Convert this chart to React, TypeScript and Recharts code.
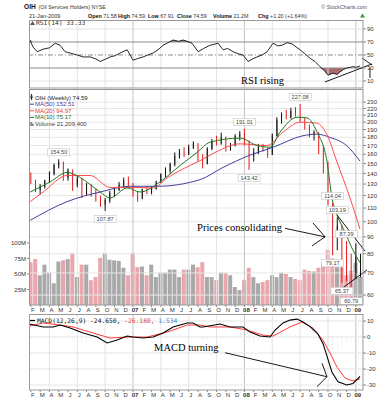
import { Area, Bar, Cell, ComposedChart, Line, ReferenceDot, ReferenceLine, XAxis, YAxis } from "recharts";

const SANS = "'Liberation Sans', Arial, sans-serif";
const MONO = "'DejaVu Sans Mono', monospace";
const SERIF = "'Liberation Serif', 'Times New Roman', serif";

// x unit = months since 1-Jan-2006
const X_DOMAIN: [number, number] = [0.8, 36.77];
const monthTicks = [1, 2, 3, 4, 5, 6, 7, 8, 9, 10, 11, 12, 13, 14, 15, 16, 17, 18, 19, 20, 21, 22, 23, 24, 25, 26, 27, 28, 29, 30, 31, 32, 33, 34, 35, 36];
const quarterLines = [3, 6, 9, 12, 15, 18, 21, 24, 27, 30, 33, 36];
const monthLetters = ["J", "F", "M", "A", "M", "J", "J", "A", "S", "O", "N", "D"];
const priceTicks = [60, 70, 80, 90, 100, 110, 120, 130, 140, 150, 160, 170, 180, 190, 200, 210, 220, 230];
const volumeTicks = [25, 50, 75, 100];
const rsiTicks = [10, 30, 50, 70, 90];
const macdTicks = [-30, -20, -10, 0, 10];

// candles, two per month
const candleT = [1, 1.5, 2, 2.5, 3, 3.5, 4, 4.5, 5, 5.5, 6, 6.5, 7, 7.5, 8, 8.5, 9, 9.5, 10, 10.5, 11, 11.5, 12, 12.5, 13, 13.5, 14, 14.5, 15, 15.5, 16, 16.5, 17, 17.5, 18, 18.5, 19, 19.5, 20, 20.5, 21, 21.5, 22, 22.5, 23, 23.5, 24, 24.5, 25, 25.5, 26, 26.5, 27, 27.5, 28, 28.5, 29, 29.5, 30, 30.5, 31, 31.5, 32, 32.5, 33, 33.5, 34, 34.5, 35, 35.5, 36, 36.5];
const opens = [138, 131, 125, 128, 133, 140, 148, 151, 136, 143, 130, 135, 121, 129, 122, 117, 113, 116, 122, 125, 129, 133, 130, 121, 118, 125, 123, 126, 132, 139, 143, 149, 158, 162, 160, 168, 172, 156, 150, 166, 175, 173, 180, 167, 170, 181, 184, 174, 158, 162, 168, 165, 160, 182, 203, 210, 207, 216, 214, 203, 195, 184, 186, 165, 150, 112, 90, 97, 78, 72, 70, 71.58];
const highs = [141, 134, 130, 134, 142, 150, 154.5, 152, 145, 144, 138, 136, 131, 130, 126, 120, 118, 124, 127, 132, 136, 137, 131, 123, 126, 128, 128, 133, 140, 146, 151, 162, 166, 168, 171, 175, 173, 160, 168, 178, 182, 186, 181, 173, 184, 188, 191.01, 176, 167, 172, 172, 167, 185, 207, 214, 218, 221, 222, 227.08, 206, 197, 189, 187, 170, 152, 114.04, 103.19, 98, 87.39, 80, 86, 80];
const lows = [130, 123, 121, 126, 131, 138, 145, 133, 133, 124, 127, 118, 120, 119, 115, 111, 107.87, 114, 119, 124, 127, 128, 119, 115, 117, 121, 121, 125, 131, 136, 140, 147, 155, 157, 159, 166, 152, 145, 149, 165, 170, 171, 163, 164, 169, 176, 170, 143.42, 152, 160, 163, 156, 159, 181, 198, 204, 205, 208, 200, 190, 180, 176, 160, 140, 112, 79.17, 82, 65.37, 66, 60.79, 67, 67.91];
const closes = [132, 125, 128, 133, 140, 148, 151, 136, 143, 130, 135, 121, 129, 122, 117, 113, 116, 122, 125, 129, 133, 130, 121, 118, 125, 123, 126, 132, 139, 143, 149, 158, 162, 160, 168, 172, 156, 150, 166, 175, 173, 180, 167, 170, 181, 184, 174, 158, 162, 168, 165, 160, 182, 203, 210, 207, 216, 214, 203, 195, 184, 186, 165, 150, 114, 90, 97, 78, 72, 70, 78, 74.59];
const volumes = [69, 74, 48, 65, 52, 35, 70, 72, 74, 84, 45, 65, 65, 40, 45, 76, 84, 73, 72, 71, 60, 48, 84, 61, 62, 48, 65, 45, 52, 52, 57, 57, 45, 57, 57, 65, 61, 69, 45, 45, 40, 52, 52, 48, 29, 24, 40, 60, 45, 35, 37, 40, 48, 45, 52, 50, 45, 42, 40, 57, 55, 54, 60, 68, 89, 75, 61, 60, 48, 55, 68, 45];
const histogram = [1.5, 1.5, 0.5, -0.5, -1, -1, -0.8, -0.5, -1, -1.5, -2.5, -3, -2.5, -2, -1.5, -1.5, -1.5, -0.5, 0.5, 1.5, 1.5, 1, 0, -0.5, -0.5, 0, 0.5, 1, 1.5, 2, 2.5, 2.5, 2, 2, 1.5, 1, 0, -1.5, -2, -1.5, -0.5, -0.5, -0.5, 0, -0.5, -0.5, -1, -3, -3.5, -2.5, -1.5, -0.5, 1, 2.5, 3, 3, 2.5, 2, 1, 0, -1, -2.5, -4, -7, -11, -11.5, -9, -6.5, -4.5, -2.5, -0.5, 1.534];

const ma50T = [0.93, 4.9, 8.46, 11.7, 14.6, 19.2, 21.7, 24.6, 27.1, 30.3, 31.8, 33.2, 35.0, 36.45];
const ma50V = [101, 115, 123, 128, 128, 134, 146, 159, 168, 182, 184, 180, 170, 152.51];
const ma20T = [0.93, 2.33, 4.91, 7.38, 9.54, 12.01, 14.17, 15.67, 18.15, 19.22, 20.84, 23.53, 26.44, 28.16, 29.99, 31.82, 32.9, 33.97, 35.37, 36.45];
const ma20V = [115, 123, 138, 138, 127, 127, 126.5, 135.6, 148, 153, 162, 172, 170, 186.7, 200, 198.6, 183, 151.5, 118, 94.97];
const ma10T = [0.93, 3.08, 4.91, 6.31, 8.46, 9.54, 11.37, 12.77, 14.92, 17.07, 18.9, 20.3, 23.53, 25.36, 26.76, 27.84, 29.67, 30.75, 31.82, 32.9, 33.43, 33.97, 34.83, 35.69, 36.45];
const ma10V = [123, 132, 141, 136, 123, 118, 126.6, 123, 132, 148, 162, 174, 179, 170, 168, 186.7, 207, 206, 186.7, 151.5, 118, 105, 93, 82, 75.17];

const rsiT = [0.85, 1.25, 1.68, 2.33, 3.0, 3.62, 4.15, 4.69, 5.23, 5.98, 6.63, 7.38, 8.0, 8.46, 8.78, 9.54, 10.1, 10.61, 11.37, 12.01, 12.6, 13.09, 13.6, 14.17, 14.7, 15.24, 15.8, 16.32, 16.9, 17.4, 18.36, 19.01, 19.6, 20.3, 21.16, 21.7, 22.2, 22.78, 23.3, 23.85, 24.39, 24.9, 25.36, 25.9, 26.44, 27.08, 27.6, 28.05, 28.6, 29.13, 29.99, 30.5, 31.07, 31.6, 32.14, 32.6, 33.0, 33.54, 34.0, 34.29, 34.7, 35.04, 35.69, 36.1, 36.45];
const rsiV = [74, 62, 55, 59, 61, 68, 65, 55, 53, 50, 47, 47, 44, 40, 42, 47, 49, 53, 58, 42, 45, 47, 50, 53, 58, 65, 69, 73, 71, 73, 68, 55, 60, 65, 68, 58, 60, 55, 52, 50, 40, 44, 47, 50, 55, 68, 64, 65, 69, 67, 58, 52, 45, 40, 32, 26, 19, 22, 20, 24, 28, 30, 32, 31, 33.33];

const macdT = [0.85, 2.33, 3.4, 4.15, 5.23, 6.63, 8.14, 9.21, 10.29, 11.37, 12.01, 13.09, 14.17, 15.24, 16.32, 17.83, 18.47, 19.22, 19.55, 21.38, 22.45, 23.85, 24.61, 25.68, 26.76, 27.3, 28.16, 28.9, 29.67, 30.31, 31.07, 31.9, 32.46, 33.0, 33.43, 34.08, 35.04, 35.69, 36.45];
const macdV = [8.1, 6.3, 6.3, 7.5, 5.6, 2.5, 0, -3.7, -1.9, 0.6, 0, -0.6, 0, 2.5, 6.3, 8.8, 8.8, 6.3, 6.3, 8.1, 6.3, 6.3, 3.1, 0.6, 0, 4.4, 8.8, 10.6, 11.2, 9.4, 6.5, 2, -4, -14, -22, -28, -30, -29, -24.65];
const signalT = [0.85, 2.33, 4.15, 5.55, 7.71, 9.54, 11.37, 13.52, 15.67, 17.83, 19.22, 20.3, 22.45, 24.28, 26.0, 27.08, 28.91, 30.2, 31.39, 32.46, 33.22, 33.97, 34.83, 35.69, 36.45];
const signalV = [6.9, 8.8, 7.5, 6.3, 2.5, -0.6, 0, 0, 3.1, 7.5, 7.5, 6.3, 6.3, 4.4, 1.2, 0.6, 6.3, 9.4, 5.6, -2, -10, -18.8, -25.6, -27.5, -26.18];

// labelled swing highs / lows (candle index)
const extremes = [
  { i: 6, k: "h" }, { i: 16, k: "l" }, { i: 46, k: "h" }, { i: 47, k: "l" }, { i: 58, k: "h" },
  { i: 65, k: "h" }, { i: 65, k: "l" }, { i: 66, k: "h" }, { i: 67, k: "l" }, { i: 68, k: "h" }, { i: 69, k: "l" },
];

// hand drawn annotations, in data units
const rsiArrow = [[[32.68, 8.5], [37.74, 36.2]], [[36.66, 45.4], [37.74, 34.6]], [[37.52, 30], [37.52, 14.6]]];
const priceArrow = [[[28.37, 95.5], [32.68, 90]], [[31.39, 99.1], [32.68, 90]], [[31.28, 84.5], [32.68, 90]], [[33.97, 104.8], [36.99, 81.5]], [[34.29, 62.2], [37.2, 71.5]]];
const macdArrow = [[[21.92, -9.8], [32.89, -24.8]], [[32.36, -16.4], [32.89, -24.8]], [[31.82, -31], [32.89, -24.8]]];

const candles = candleT.map((t, i) => ({ t, o: opens[i], h: highs[i], l: lows[i], c: closes[i], vol: volumes[i], hist: histogram[i] }));
const series = (ts: number[], vs: number[]) => ts.map((t, i) => ({ t, v: vs[i] }));
const ma50 = series(ma50T, ma50V);
const ma20 = series(ma20T, ma20V);
const ma10 = series(ma10T, ma10V);
const rsi = series(rsiT, rsiV);
const macd = series(macdT, macdV);
const signal = series(signalT, signalV);
const last = (a: number[]) => a[a.length - 1];

const axisTick = { fontSize: 6, fill: "#333", fontFamily: SANS };

const MonthTick = (p: any) => {
  const m = p.payload.value % 12;
  const jan = m === 0;
  return (
    <text x={p.x + 2} y={p.y} dy="0.71em" textAnchor="middle" fontSize={6} fontFamily={SANS} fontWeight={jan ? 700 : 400} fill="#333">
      {jan ? String(2006 + p.payload.value / 12).slice(2) : monthLetters[m]}
    </text>
  );
};

const CandleShape = (p: any) => {
  const { x, y, width, height, payload } = p;
  if (!payload) return null;
  const top = Math.min(y, y + height);
  const bot = Math.max(y, y + height);
  const span = Math.log(payload.h) - Math.log(payload.l) || 1;
  const yOf = (v: number) => top + ((bot - top) * (Math.log(payload.h) - Math.log(v))) / span;
  const down = payload.c < payload.o;
  const color = down ? "#e31a1a" : "#111";
  const bTop = yOf(Math.max(payload.o, payload.c));
  const bBot = yOf(Math.min(payload.o, payload.c));
  const cx = x + width / 2;
  return (
    <g>
      <line x1={cx} x2={cx} y1={top} y2={bot} stroke={color} strokeWidth={1} />
      <rect x={x} y={bTop} width={width} height={Math.max(1, bBot - bTop)} fill={down ? color : "#fff"} stroke={color} strokeWidth={down ? 0 : 0.8} />
    </g>
  );
};

const segments = (list: number[][][], yAxisId?: string) =>
  list.map((s, i) => (
    <ReferenceLine
      key={`seg${i}`}
      yAxisId={yAxisId}
      segment={[{ x: s[0][0], y: s[0][1] }, { x: s[1][0], y: s[1][1] }]}
      stroke="#000"
      strokeWidth={0.9}
      ifOverflow="visible"
    />
  ));

const note = (t: number, y: number, text: string, yAxisId?: string) => (
  <ReferenceDot
    x={t}
    y={y}
    r={1}
    yAxisId={yAxisId}
    ifOverflow="visible"
    shape={(p: any) => (
      <text x={p.cx} y={p.cy} fontFamily={SERIF} fontSize={10.5} fill="#000">
        {text}
      </text>
    )}
  />
);

const vGrid = (yAxisId?: string) =>
  quarterLines.map((q) => <ReferenceLine key={`q${q}`} x={q} yAxisId={yAxisId} stroke={q % 12 === 0 ? "#c4c4c4" : "#e4e4e4"} />);

export default function App() {
  return (
    <div style={{ position: "absolute", left: 0, top: 0, width: 388, height: 400, background: "#fff", overflow: "hidden" }}>
      {/* RSI */}
      <div style={{ position: "absolute", left: 0, top: 0 }}>
        <ComposedChart width={388} height={90} data={rsi} margin={{ top: 20, right: 0, bottom: 2, left: 29 }}>
          <XAxis type="number" dataKey="t" domain={X_DOMAIN} allowDataOverflow hide />
          <YAxis orientation="right" width={25} domain={[-0.8, 103.8]} allowDataOverflow ticks={rsiTicks} interval={0} tick={axisTick} tickSize={3} tickMargin={1} tickLine={{ stroke: "#888" }} axisLine={false} />
          {vGrid()}
          {rsiTicks.map((v) => (
            <ReferenceLine key={v} y={v} stroke={v === 10 || v === 90 ? "#e4e4e4" : "#8c8c8c"} strokeDasharray={v === 50 ? "5 2 1 2" : undefined} />
          ))}
          <Area type="linear" dataKey={(d: any) => Math.min(d.v, 30)} baseValue={30} fill="#a86a6a" fillOpacity={1} stroke="none" isAnimationActive={false} />
          <Area type="linear" dataKey={(d: any) => Math.max(d.v, 70)} baseValue={70} fill="#6b8f6b" fillOpacity={1} stroke="none" isAnimationActive={false} />
          <Line type="linear" dataKey="v" stroke="#111" strokeWidth={0.9} dot={false} isAnimationActive={false} />
          {segments(rsiArrow)}
          {note(23.64, 5.4, "RSI rising")}
        </ComposedChart>
      </div>

      {/* volume (under the price bars) */}
      <div style={{ position: "absolute", left: 0, top: 85 }}>
        <ComposedChart width={388} height={230} data={candles} margin={{ top: 4, right: 25, bottom: 10, left: 0 }}>
          <XAxis type="number" dataKey="t" domain={X_DOMAIN} allowDataOverflow hide />
          <YAxis yAxisId="v" orientation="left" width={29} domain={[0, 348]} allowDataOverflow ticks={volumeTicks} interval={0} tickFormatter={(v: number) => `${v}M`} tick={axisTick} tickSize={2} tickMargin={1} tickLine={{ stroke: "#888" }} axisLine={false} />
          <YAxis yAxisId="p" orientation="right" hide scale="log" domain={[56, 252]} allowDataOverflow />
          {priceTicks.map((p) => (
            <ReferenceLine key={p} yAxisId="p" y={p} stroke="#e6e6e6" />
          ))}
          {vGrid("p")}
          <Bar yAxisId="v" dataKey="vol" barSize={4} isAnimationActive={false}>
            {candles.map((d, i) => (
              <Cell key={i} fill={d.c < d.o ? "#e9a7ad" : "#a9a9a9"} />
            ))}
          </Bar>
        </ComposedChart>
      </div>

      {/* price */}
      <div style={{ position: "absolute", left: 0, top: 85 }}>
        <ComposedChart width={388} height={230} data={candles} margin={{ top: 4, right: 0, bottom: 0, left: 29 }}>
          <XAxis type="number" dataKey="t" domain={X_DOMAIN} allowDataOverflow ticks={monthTicks} interval={0} tick={MonthTick} tickSize={2} tickMargin={1} tickLine={{ stroke: "#888" }} axisLine={false} height={10} />
          <YAxis yAxisId="p" orientation="right" width={25} scale="log" domain={[56, 252]} allowDataOverflow ticks={priceTicks} interval={0} tick={axisTick} tickSize={3} tickMargin={1} tickLine={{ stroke: "#888" }} axisLine={false} />
          <Bar yAxisId="p" dataKey={(d: any) => [d.l, d.h]} barSize={3} shape={CandleShape} isAnimationActive={false} />
          <Line yAxisId="p" data={ma50} dataKey="v" type="monotone" stroke="#3f3fa0" strokeWidth={1} dot={false} isAnimationActive={false} />
          <Line yAxisId="p" data={ma20} dataKey="v" type="monotone" stroke="#ff4a4a" strokeWidth={1} dot={false} isAnimationActive={false} />
          <Line yAxisId="p" data={ma10} dataKey="v" type="monotone" stroke="#1f7a1f" strokeWidth={1} dot={false} isAnimationActive={false} />
          {extremes.map((e, n) => {
            const d = candles[e.i];
            const v = e.k === "h" ? d.h : d.l;
            return (
              <ReferenceDot
                key={`x${n}`}
                yAxisId="p"
                x={d.t}
                y={v}
                r={1}
                ifOverflow="visible"
                shape={(p: any) => {
                  const cy = p.cy + (e.k === "h" ? -7 : 8);
                  return (
                    <g>
                      <rect x={p.cx - 11} y={cy - 3.5} width={22} height={7} fill="#fff" stroke="#c4c4c4" strokeWidth={0.6} />
                      <text x={p.cx} y={cy + 2} textAnchor="middle" fontSize={5.6} fontFamily={SANS} fill="#444">
                        {v.toFixed(2)}
                      </text>
                    </g>
                  );
                }}
              />
            );
          })}
          {segments(priceArrow, "p")}
          {note(18.9, 93.8, "Prices consolidating", "p")}
        </ComposedChart>
      </div>

      {/* MACD */}
      <div style={{ position: "absolute", left: 0, top: 310 }}>
        <ComposedChart width={388} height={90} data={candles} margin={{ top: 4, right: 0, bottom: 0, left: 29 }}>
          <XAxis type="number" dataKey="t" domain={X_DOMAIN} allowDataOverflow ticks={monthTicks} interval={0} tick={MonthTick} tickSize={2} tickMargin={1} tickLine={{ stroke: "#888" }} axisLine={false} height={10} />
          <YAxis orientation="right" width={25} domain={[-33.1, 14.4]} allowDataOverflow ticks={macdTicks} interval={0} tick={axisTick} tickSize={3} tickMargin={1} tickLine={{ stroke: "#888" }} axisLine={false} />
          {vGrid()}
          {macdTicks.map((v) => (
            <ReferenceLine key={v} y={v} stroke="#e4e4e4" />
          ))}
          <Bar dataKey="hist" barSize={3} fill="#3a86c4" isAnimationActive={false} />
          <Line data={signal} dataKey="v" type="linear" stroke="#ff3b3b" strokeWidth={1} dot={false} isAnimationActive={false} />
          <Line data={macd} dataKey="v" type="linear" stroke="#000" strokeWidth={1.1} dot={false} isAnimationActive={false} />
          {segments(macdArrow)}
          {note(14.27, -9, "MACD turning")}
        </ComposedChart>
      </div>

      {/* frames, header and legends */}
      <svg width={388} height={400} style={{ position: "absolute", left: 0, top: 0, pointerEvents: "none" }} fontFamily={SANS}>
        <rect x={29.5} y={20.5} width={333.5} height={67.5} fill="none" stroke="#999" />
        <rect x={29.5} y={89.5} width={333.5} height={215.5} fill="none" stroke="#999" />
        <rect x={29.5} y={314.5} width={333.5} height={75.5} fill="none" stroke="#999" />

        <text x={24} y={8.5} fontSize={6.6} fontWeight={700} fill="#111">OIH</text>
        <text x={38.5} y={8.5} fontSize={5.3} fill="#333">(Oil Services Holders) NYSE</text>
        <text x={367} y={8.5} fontSize={5.3} fill="#555" textAnchor="end">© StockCharts.com</text>
        <text x={29} y={17.5} fontSize={5.6} fill="#333">21-Jan-2009</text>
        {[
          { label: "Open", value: opens[opens.length - 1].toFixed(2), x: 88 },
          { label: "High", value: "74.59", x: 118 },
          { label: "Low", value: last(lows).toFixed(2), x: 148 },
          { label: "Close", value: last(closes).toFixed(2), x: 177 },
          { label: "Volume", value: "21.2M", x: 213 },
          { label: "Chg", value: "+1.20 (+1.64%)", x: 258 },
        ].map((f) => (
          <text key={f.label} x={f.x} y={17.5} fontSize={5.4}>
            <tspan fontWeight={700} fill="#111">{f.label}</tspan>
            <tspan fill="#333">{" " + f.value}</tspan>
          </text>
        ))}
        <path d="M360 17.5 L365 17.5 L362.5 13.5 Z" fill="#2a9d2a" />

        <path d="M30 25 L32.5 21 L35 25 Z" fill="#555" />
        <text x={36} y={25} fontSize={6.3} fontFamily={MONO} fill="#333">{`RSI(14) ${last(rsiV).toFixed(2)}`}</text>

        <line x1={31.5} x2={31.5} y1={94} y2={100} stroke="#333" />
        <rect x={30.5} y={95.5} width={2} height={3} fill="#333" />
        <text x={35} y={99.8} fontSize={6} fill="#222">{`OIH (Weekly) ${last(closes).toFixed(2)}`}</text>
        <line x1={30} x2={34} y1={104.2} y2={104.2} stroke="#3f3fa0" />
        <text x={35} y={106.2} fontSize={6} fill="#3f3fa0">{`MA(50) ${last(ma50V).toFixed(2)}`}</text>
        <line x1={30} x2={34} y1={110.8} y2={110.8} stroke="#ff4a4a" />
        <text x={35} y={112.8} fontSize={6} fill="#e04040">{`MA(20) ${last(ma20V).toFixed(2)}`}</text>
        <line x1={30} x2={34} y1={117.4} y2={117.4} stroke="#1f7a1f" />
        <text x={35} y={119.4} fontSize={6} fill="#1f6a1f">{`MA(10) ${last(ma10V).toFixed(2)}`}</text>
        <rect x={30.5} y={122} width={1.2} height={4} fill="#555" />
        <rect x={32.3} y={123.5} width={1.2} height={2.5} fill="#555" />
        <text x={35} y={126} fontSize={6} fill="#444">Volume 21,209,400</text>

        <line x1={30} x2={35} y1={320.5} y2={320.5} stroke="#000" strokeWidth={1.2} />
        <text x={37} y={322.5} fontSize={6.3} fontFamily={MONO}>
          <tspan fill="#111">{`MACD(12,26,9) ${last(macdV).toFixed(3)}, `}</tspan>
          <tspan fill="#e04040">{`${last(signalV).toFixed(3)}, `}</tspan>
          <tspan fill="#3a86c4">{last(histogram).toFixed(3)}</tspan>
        </text>
      </svg>
    </div>
  );
}
